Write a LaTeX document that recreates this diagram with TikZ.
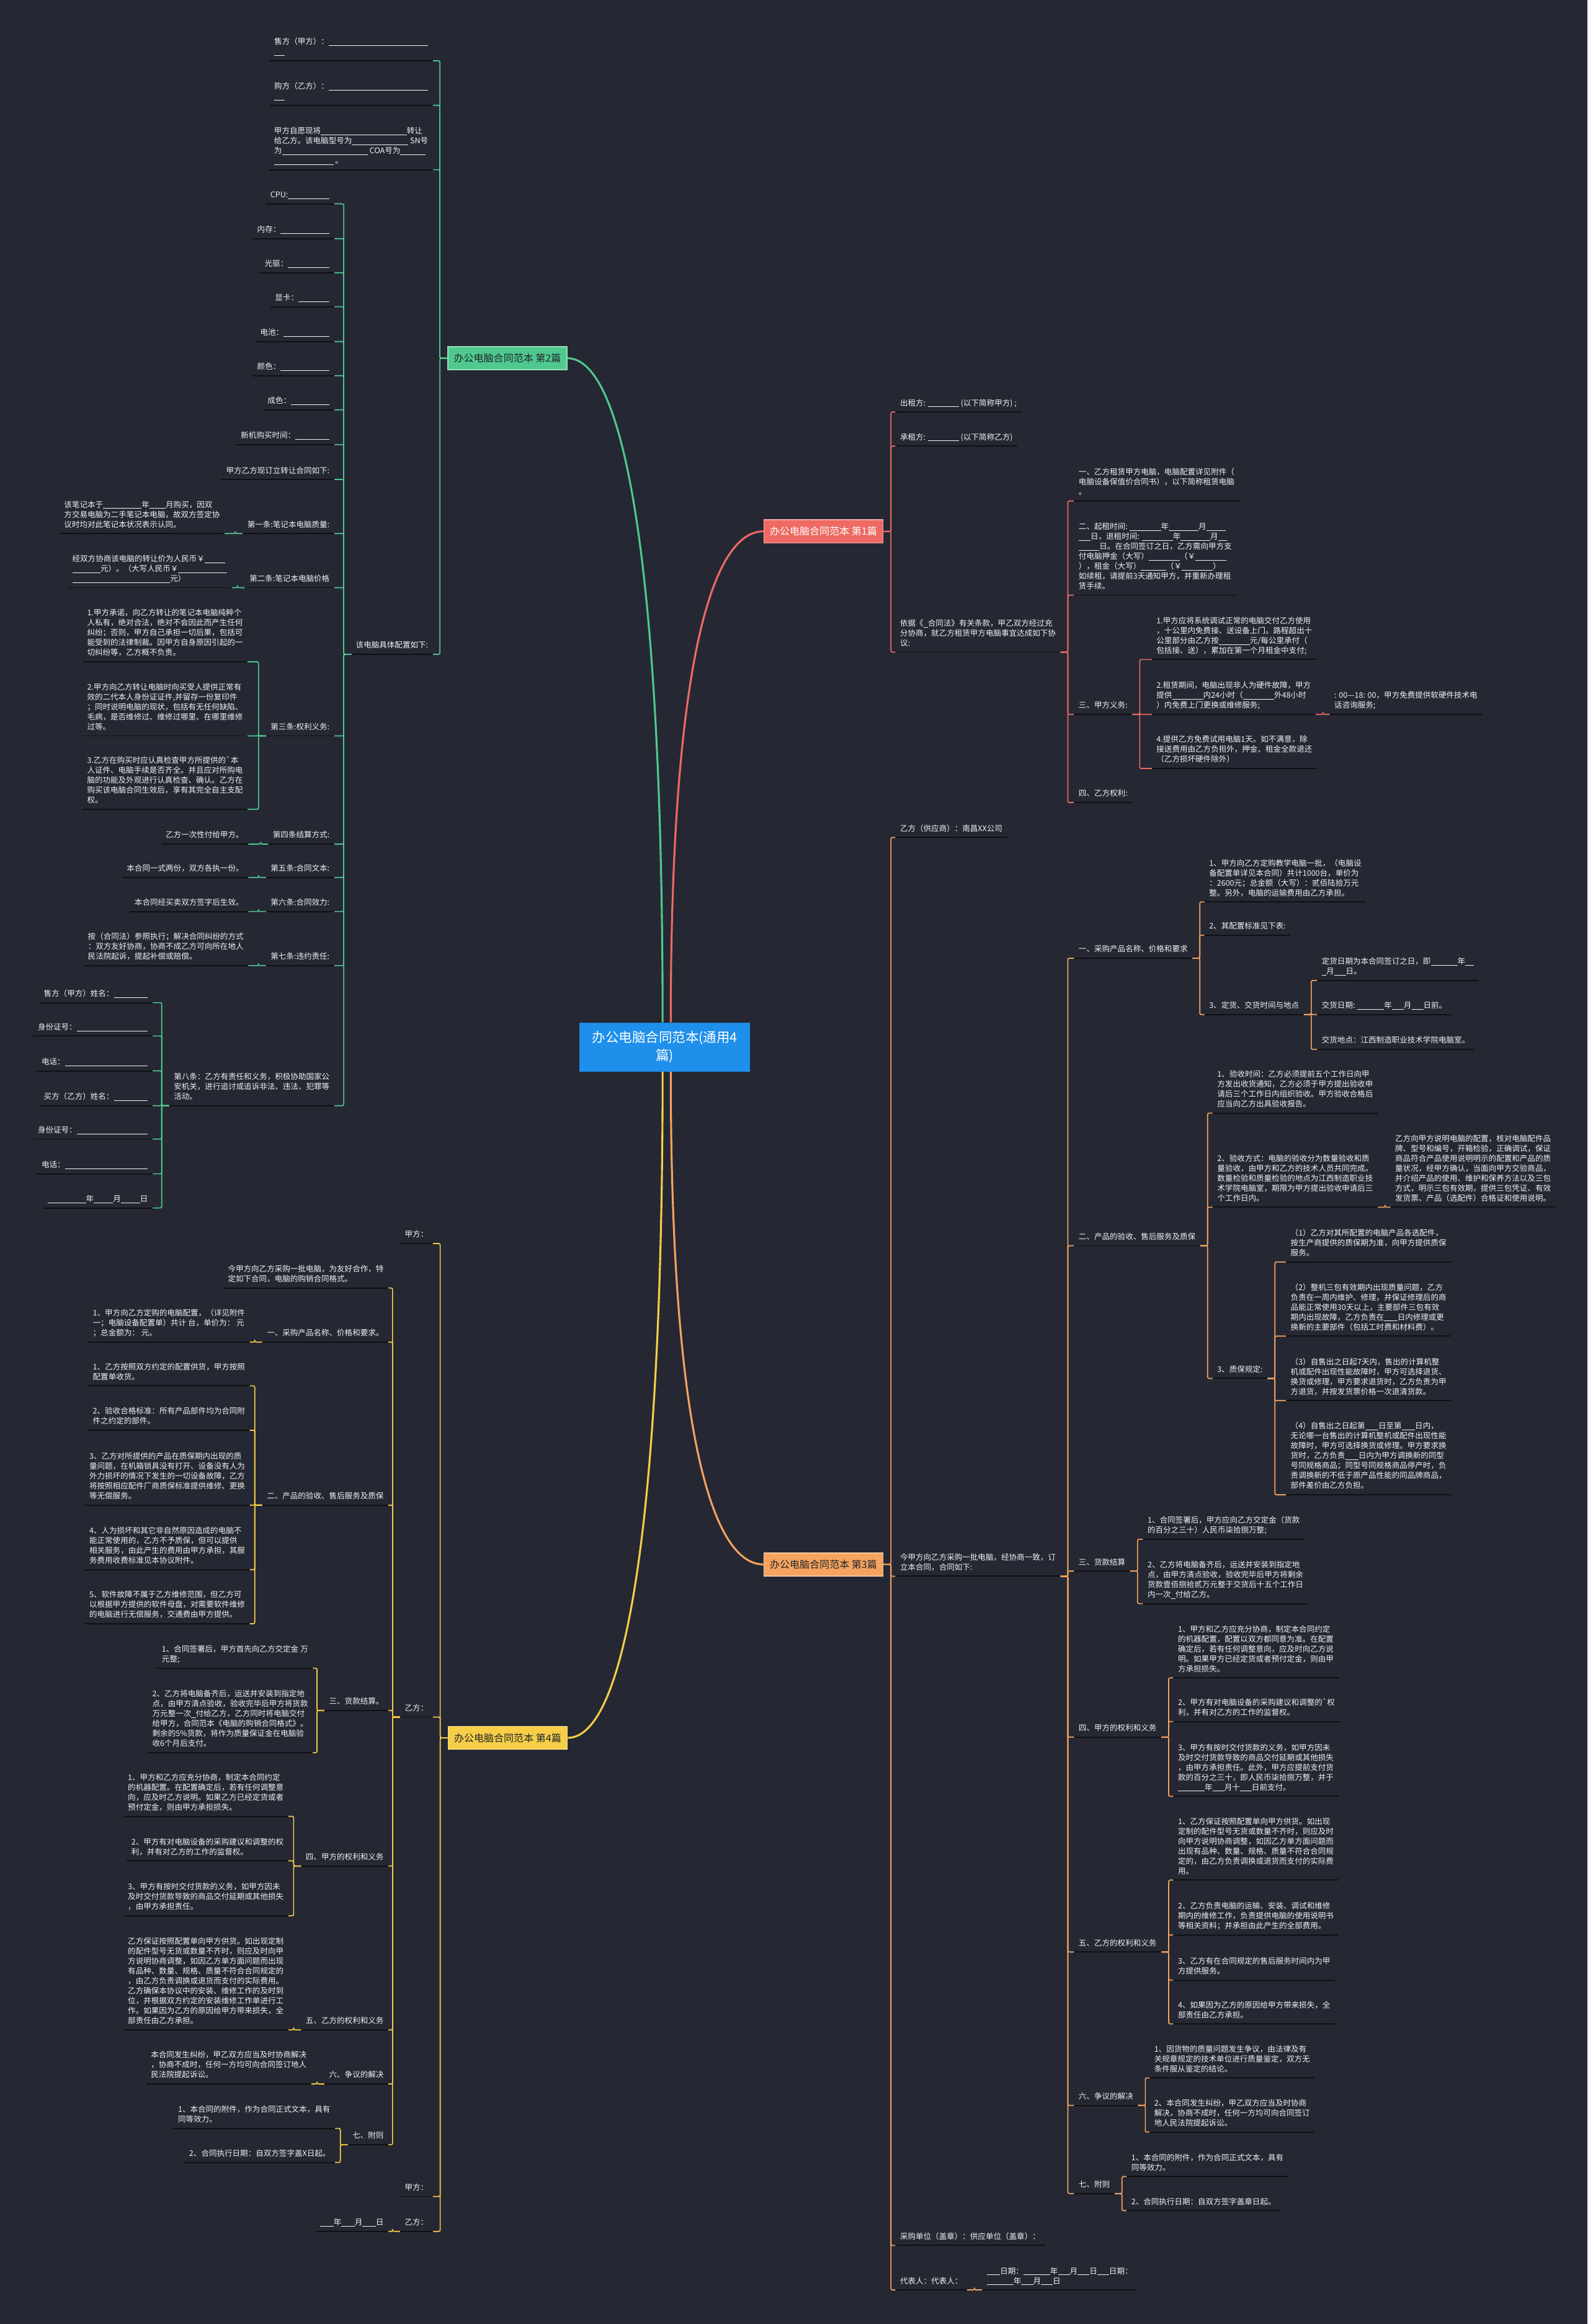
\documentclass[tikz,border=0pt]{standalone}
\usepackage{fontspec}
\setmainfont{Noto Sans CJK SC}
\definecolor{mapaFondo}{HTML}{252833}
\definecolor{mapaAzul}{HTML}{1E8FEA}
\definecolor{mapaVerde}{HTML}{4FC98E}
\definecolor{mapaRojo}{HTML}{EE6A63}
\definecolor{mapaNaranja}{HTML}{F5A35F}
\definecolor{mapaAmarillo}{HTML}{F6CE48}
\definecolor{mapaRaya}{HTML}{0E1014}
\definecolor{mapaTexto}{HTML}{F2F2F2}
\definecolor{mapaOscuro}{HTML}{20262B}
\newcommand{\hueco}[1]{\rule[-0.9pt]{#1pt}{0.4pt}}
\tikzset{
  raya/.style={draw=mapaRaya, line width=0.8pt},
  hoja/.style={align=left, text=mapaTexto, font=\fontsize{5.25}{6.7}\selectfont,
    inner xsep=3pt, inner ysep=2pt, execute at end node=\strut,
    append after command={(\tikzlastnode.south west) edge[raya] (\tikzlastnode.south east)}},
  hojaD/.style={hoja, anchor=south west},
  hojaI/.style={hoja, anchor=south east},
  raiz/.style={rectangle, fill=mapaAzul, text=white, minimum width=115pt,
    minimum height=33pt, align=center, font=\fontsize{9}{12}\selectfont},
  rama/.style={rectangle, minimum width=80.5pt, minimum height=15.5pt, inner sep=1pt,
    text=mapaOscuro, line width=0.6pt, font=\fontsize{6.7}{8}\selectfont},
  curva/.style={line width=1.3pt},
  codoD/.style={line width=0.7pt, rounded corners=1pt, to path={-- ++(5,0) |- (\tikztotarget)}},
  codoI/.style={line width=0.7pt, rounded corners=1pt, to path={-- ++(-5,0) |- (\tikztotarget)}},
}
\begin{document}
\begin{tikzpicture}[x=1pt,y=-1pt]
  \useasboundingbox (0,0) rectangle (1071,1568);
  \fill[mapaFondo] (0,0) rectangle (1071,1568);

  \node[raiz] (raiz) at (448.5,706.5) {办公电脑合同范本(通用4\\篇)};
  \node[rama, fill=mapaVerde, draw=mapaVerde!60!white] (p2) at (342.3,241.7) {办公电脑合同范本 第2篇};
  \node[rama, fill=mapaRojo, draw=mapaRojo!60!white, text=white] (p1) at (555.5,358.5) {办公电脑合同范本 第1篇};
  \node[rama, fill=mapaNaranja, draw=mapaNaranja!60!white] (p3) at (555.5,1055.5) {办公电脑合同范本 第3篇};
  \node[rama, fill=mapaAmarillo, draw=mapaAmarillo!60!white] (p4) at (342.5,1172.5) {办公电脑合同范本 第4篇};

  \draw[curva, mapaVerde] (p2.east) .. controls +(38,0) and +(0,-310) .. ([xshift=-1.5pt]raiz.north);
  \draw[curva, mapaRojo] ([xshift=4pt]raiz.north) .. controls +(0,-240) and +(-35,0) .. (p1.west);
  \draw[curva, mapaAmarillo] (p4.east) .. controls +(38,0) and +(0,310) .. ([xshift=-1.5pt]raiz.south);
  \draw[curva, mapaNaranja] ([xshift=4pt]raiz.south) .. controls +(0,240) and +(-35,0) .. (p3.west);

  % 第2篇
  \node[hojaI] (v1) at (292,41) {售方（甲方）：\hueco{67}\\\hueco{7}};
  \node[hojaI] (v2) at (292,71) {购方（乙方）：\hueco{67}\\\hueco{7}};
  \node[hojaI] (v3) at (292,114.5) {甲方自愿现将\hueco{58}转让\\给乙方。该电脑型号为\hueco{38} SN号\\为\hueco{58} COA号为\hueco{17}\\\hueco{40} 。};
  \node[hojaI] (v4) at (292,441.5) {该电脑具体配置如下:};
  \node[hojaI] (c1) at (225.5,137.5) {CPU:\hueco{28}};
  \node[hojaI] (c2) at (225.5,161) {内存：\hueco{33}};
  \node[hojaI] (c3) at (225.5,184) {光驱：\hueco{28}};
  \node[hojaI] (c4) at (225.5,207) {显卡：\hueco{21}};
  \node[hojaI] (c5) at (225.5,230.5) {电池：\hueco{31}};
  \node[hojaI] (c6) at (225.5,253.5) {颜色：\hueco{33}};
  \node[hojaI] (c7) at (225.5,276.5) {成色：\hueco{26}};
  \node[hojaI] (c8) at (225.5,300) {新机购买时间：\hueco{23}};
  \node[hojaI] (c9) at (225.5,323.5) {甲方乙方现订立转让合同如下:};
  \node[hojaI] (c10) at (225.5,360) {第一条:笔记本电脑质量:};
  \node[hojaI] (c11) at (225.5,396.5) {第二条:笔记本电脑价格};
  \node[hojaI] (c12) at (225.5,496.5) {第三条:权利义务:};
  \node[hojaI] (c13) at (225.5,569.5) {第四条结算方式:};
  \node[hojaI] (c14) at (225.5,592) {第五条:合同文本:};
  \node[hojaI] (c15) at (225.5,615) {第六条:合同效力:};
  \node[hojaI] (c16) at (225.5,651.5) {第七条:违约责任:};
  \node[hojaI] (c17) at (225.5,746) {第八条：乙方有责任和义务，积极协助国家公\\安机关，进行追讨或追诉非法、违法、犯罪等\\活动。};
  \node[hojaI] (c10a) at (151.5,360) {该笔记本于\hueco{26}年\hueco{11}月购买，因双\\方交易电脑为二手笔记本电脑，故双方签定协\\议时均对此笔记本状况表示认同。};
  \node[hojaI] (c11a) at (156.5,396.5) {经双方协商该电脑的转让价为人民币￥\hueco{14}\\\hueco{19}元）。（大写人民币￥\hueco{33}\\\hueco{66}元）};
  \node[hojaI] (c12a) at (167,446.5) {1.甲方承诺，向乙方转让的笔记本电脑纯粹个\\人私有，绝对合法，绝对不会因此而产生任何\\纠纷；否则，甲方自己承担一切后果，包括可\\能受到的法律制裁。因甲方自身原因引起的一\\切纠纷等，乙方概不负责。};
  \node[hojaI] (c12b) at (167,496.5) {2.甲方向乙方转让电脑时向买受人提供正常有\\效的二代本人身份证证件,并留存一份复印件\\；同时说明电脑的现状，包括有无任何缺陷、\\毛病，是否维修过、维修过哪里、在哪里维修\\过等。};
  \node[hojaI] (c12c) at (167,546) {3.乙方在购买时应认真检查甲方所提供的\textasciigrave 本\\人证件、电脑手续是否齐全。并且应对所购电\\脑的功能及外观进行认真检查、确认。乙方在\\购买该电脑合同生效后，享有其完全自主支配\\权。};
  \node[hojaI] (c13a) at (167.5,569.5) {乙方一次性付给甲方。};
  \node[hojaI] (c14a) at (167.5,592) {本合同一式两份，双方各执一份。};
  \node[hojaI] (c15a) at (167.5,615) {本合同经买卖双方签字后生效。};
  \node[hojaI] (c16a) at (167.5,651.5) {按（合同法）参照执行；解决合同纠纷的方式\\：双方友好协商，协商不成乙方可向所在地人\\民法院起诉，提起补偿或赔偿。};
  \node[hojaI] (f1) at (103,676.5) {售方（甲方）姓名：\hueco{23}};
  \node[hojaI] (f2) at (103,699) {身份证号：\hueco{48}};
  \node[hojaI] (f3) at (103,722.5) {电话：\hueco{56}};
  \node[hojaI] (f4) at (103,746) {买方（乙方）姓名：\hueco{23}};
  \node[hojaI] (f5) at (103,768.5) {身份证号：\hueco{48}};
  \node[hojaI] (f6) at (103,792) {电话：\hueco{56}};
  \node[hojaI] (f7) at (103,815) {\hueco{26}年\hueco{13}月\hueco{13}日};

  \path[mapaVerde] (p2.west) edge[codoI] (v1.south east) edge[codoI] (v2.south east)
    edge[codoI] (v3.south east) edge[codoI] (v4.south east);
  \path[mapaVerde] (v4.south west) edge[codoI] (c1.south east) edge[codoI] (c2.south east)
    edge[codoI] (c3.south east) edge[codoI] (c4.south east) edge[codoI] (c5.south east)
    edge[codoI] (c6.south east) edge[codoI] (c7.south east) edge[codoI] (c8.south east)
    edge[codoI] (c9.south east) edge[codoI] (c10.south east) edge[codoI] (c11.south east)
    edge[codoI] (c12.south east) edge[codoI] (c13.south east) edge[codoI] (c14.south east)
    edge[codoI] (c15.south east) edge[codoI] (c16.south east) edge[codoI] (c17.south east);
  \path[mapaVerde] (c10.south west) edge[codoI] (c10a.south east);
  \path[mapaVerde] (c11.south west) edge[codoI] (c11a.south east);
  \path[mapaVerde] (c12.south west) edge[codoI] (c12a.south east) edge[codoI] (c12b.south east)
    edge[codoI] (c12c.south east);
  \path[mapaVerde] (c13.south west) edge[codoI] (c13a.south east);
  \path[mapaVerde] (c14.south west) edge[codoI] (c14a.south east);
  \path[mapaVerde] (c15.south west) edge[codoI] (c15a.south east);
  \path[mapaVerde] (c16.south west) edge[codoI] (c16a.south east);
  \path[mapaVerde] (c17.south west) edge[codoI] (f1.south east) edge[codoI] (f2.south east)
    edge[codoI] (f3.south east) edge[codoI] (f4.south east) edge[codoI] (f5.south east)
    edge[codoI] (f6.south east) edge[codoI] (f7.south east);

  % 第1篇
  \node[hojaD] (r1) at (604,278) {出租方: \hueco{21} (以下简称甲方) ;};
  \node[hojaD] (r2) at (604,301) {承租方: \hueco{21} (以下简称乙方)};
  \node[hojaD] (r3) at (604,440) {依据《\hueco{3}合同法》有关条款，甲乙双方经过充\\分协商，就乙方租赁甲方电脑事宜达成如下协\\议:};
  \node[hojaD] (r3a) at (724.5,338) {一、乙方租赁甲方电脑，电脑配置详见附件（\\电脑设备保值价合同书），以下简称租赁电脑\\。};
  \node[hojaD] (r3b) at (724.5,401.5) {二、起租时间: \hueco{21}年\hueco{20}月\hueco{13}\\\hueco{8}日，退租时间: \hueco{21}年\hueco{20}月\hueco{6}\\\hueco{14}日。在合同签订之日，乙方需向甲方支\\付电脑押金（大写）\hueco{21}（￥\hueco{21}\\），租金（大写）\hueco{17}（￥\hueco{21}）\\如续租，请提前3天通知甲方，并重新办理租\\赁手续。};
  \node[hojaD] (r3c) at (724.5,482) {三、甲方义务:};
  \node[hojaD] (r3d) at (724.5,541.5) {四、乙方权利:};
  \node[hojaD] (r3c1) at (777,445) {1.甲方应将系统调试正常的电脑交付乙方使用\\，十公里内免费接、送设备上门。路程超出十\\公里部分由乙方按\hueco{21}元/每公里承付（\\包括接、送），累加在第一个月租金中支付;};
  \node[hojaD] (r3c2) at (777,482) {2.租赁期间，电脑出现非人为硬件故障，甲方\\提供\hueco{21}内24小时（\hueco{21}外48小时\\）内免费上门更换或维修服务;};
  \node[hojaD] (r3c4) at (777,518.5) {4.提供乙方免费试用电脑1天。如不满意，除\\接送费用由乙方负担外，押金、租金全款退还\\（乙方损坏硬件除外）};
  \node[hojaD] (r3c2a) at (897,482) {: 00—18: 00，甲方免费提供软硬件技术电\\话咨询服务;};

  \path[mapaRojo] (p1.east) edge[codoD] (r1.south west) edge[codoD] (r2.south west)
    edge[codoD] (r3.south west);
  \path[mapaRojo] (r3.south east) edge[codoD] (r3a.south west) edge[codoD] (r3b.south west)
    edge[codoD] (r3c.south west) edge[codoD] (r3d.south west);
  \path[mapaRojo] (r3c.south east) edge[codoD] (r3c1.south west) edge[codoD] (r3c2.south west)
    edge[codoD] (r3c4.south west);
  \path[mapaRojo] (r3c2.south east) edge[codoD] (r3c2a.south west);

  % 第3篇
  \node[hojaD] (o1) at (604,565) {乙方（供应商）：南昌XX公司};
  \node[hojaD] (o2) at (604,1063.5) {今甲方向乙方采购一批电脑，经协商一致，订\\立本合同，合同如下:};
  \node[hojaD] (o3) at (604,1515) {采购单位（盖章）：供应单位（盖章）：};
  \node[hojaD] (o4) at (604,1545) {代表人：代表人：};
  \node[hojaD] (o4a) at (662.5,1545) {\hueco{9}日期：\hueco{18}年\hueco{8}月\hueco{8}日\hueco{8}日期：\\\hueco{18}年\hueco{8}月\hueco{8}日};
  \node[hojaD] (o2a) at (724.5,646.5) {一、采购产品名称、价格和要求};
  \node[hojaD] (o2b) at (724.5,840.5) {二、产品的验收、售后服务及质保};
  \node[hojaD] (o2c) at (724.5,1060) {三、货款结算};
  \node[hojaD] (o2d) at (724.5,1172) {四、甲方的权利和义务};
  \node[hojaD] (o2e) at (724.5,1317) {五、乙方的权利和义务};
  \node[hojaD] (o2f) at (724.5,1420.5) {六、争议的解决};
  \node[hojaD] (o2g) at (724.5,1480) {七、附则};
  \node[hojaD] (o2a1) at (812.5,608.5) {1、甲方向乙方定购教学电脑一批，（电脑设\\备配置单详见本合同）共计1000台，单价为\\：2600元；总金额（大写）：贰佰陆拾万元\\整。另外，电脑的运输费用由乙方承担。};
  \node[hojaD] (o2a2) at (812.5,631) {2、其配置标准见下表:};
  \node[hojaD] (o2a3) at (812.5,684.5) {3、定货、交货时间与地点};
  \node[hojaD] (o2a3a) at (888.5,661.5) {定货日期为本合同签订之日，即\hueco{18}年\hueco{6}\\\hueco{3}月\hueco{8}日。};
  \node[hojaD] (o2a3b) at (888.5,684.5) {交货日期: \hueco{18}年\hueco{8}月\hueco{8}日前。};
  \node[hojaD] (o2a3c) at (888.5,708) {交货地点：江西制造职业技术学院电脑室。};
  \node[hojaD] (o2b1) at (818,751) {1、验收时间：乙方必须提前五个工作日向甲\\方发出收货通知，乙方必须于甲方提出验收申\\请后三个工作日内组织验收。甲方验收合格后\\应当向乙方出具验收报告。};
  \node[hojaD] (o2b2) at (818,814.5) {2、验收方式：电脑的验收分为数量验收和质\\量验收，由甲方和乙方的技术人员共同完成。\\数量检验和质量检验的地点为江西制造职业技\\术学院电脑室，期限为甲方提出验收申请后三\\个工作日内。};
  \node[hojaD] (o2b2a) at (938,814.5) {乙方向甲方说明电脑的配置，核对电脑配件品\\牌、型号和编号，开箱检验，正确调试，保证\\商品符合产品使用说明明示的配置和产品的质\\量状况，经甲方确认，当面向甲方交验商品，\\并介绍产品的使用、维护和保养方法以及三包\\方式，明示三包有效期，提供三包凭证、有效\\发货票、产品（选配件）合格证和使用说明。};
  \node[hojaD] (o2b3) at (818,930) {3、质保规定:};
  \node[hojaD] (o2b3a) at (867.5,851.5) {（1）乙方对其所配置的电脑产品各选配件，\\按生产商提供的质保期为准，向甲方提供质保\\服务。};
  \node[hojaD] (o2b3b) at (867.5,901.5) {（2）整机三包有效期内出现质量问题，乙方\\负责在一周内维护、修理，并保证修理后的商\\品能正常使用30天以上，主要部件三包有效\\期内出现故障，乙方负责在\hueco{9}日内修理或更\\换新的主要部件（包括工时费和材料费）。};
  \node[hojaD] (o2b3c) at (867.5,945) {（3）自售出之日起7天内，售出的计算机整\\机或配件出现性能故障时，甲方可选择退货、\\换货或修理，甲方要求退货时，乙方负责为甲\\方退货，并按发货票价格一次退清货款。};
  \node[hojaD] (o2b3d) at (867.5,1008.5) {（4）自售出之日起第\hueco{9}日至第\hueco{9}日内，\\无论哪一台售出的计算机整机或配件出现性能\\故障时，甲方可选择换货或修理。甲方要求换\\货时，乙方负责\hueco{9}日内为甲方调换新的同型\\号同规格商品；同型号同规格商品停产时，负\\责调换新的不低于原产品性能的同品牌商品，\\部件差价由乙方负担。};
  \node[hojaD] (o2c1) at (771,1038.5) {1、合同签署后，甲方应向乙方交定金（货款\\的百分之三十）人民币柒拾捌万整;};
  \node[hojaD] (o2c2) at (771,1082) {2、乙方将电脑备齐后，运送并安装到指定地\\点，由甲方清点验收，验收完毕后甲方将剩余\\货款壹佰捌拾贰万元整于交货后十五个工作日\\内一次\hueco{3}付给乙方。};
  \node[hojaD] (o2d1) at (791.5,1132) {1、甲方和乙方应充分协商，制定本合同约定\\的机器配置，配置以双方都同意为准。在配置\\确定后，若有任何调整意向，应及时向乙方说\\明。如果甲方已经定货或者预付定金，则由甲\\方承担损失。};
  \node[hojaD] (o2d2) at (791.5,1161.5) {2、甲方有对电脑设备的采购建议和调整的\textasciigrave 权\\利，并有对乙方的工作的监督权。};
  \node[hojaD] (o2d3) at (791.5,1212) {3、甲方有按时交付货款的义务，如甲方因未\\及时交付货款导致的商品交付延期或其他损失\\，由甲方承担责任。此外，甲方应提前支付货\\款的百分之三十，即人民币柒拾捌万整，并于\\\hueco{18}年\hueco{8}月十\hueco{8}日前支付。};
  \node[hojaD] (o2e1) at (791.5,1268.5) {1、乙方保证按照配置单向甲方供货。如出现\\定制的配件型号无货或数量不齐时，则应及时\\向甲方说明协商调整，如因乙方单方面问题而\\出现有品种、数量、规格、质量不符合合同规\\定的，由乙方负责调换或退货而支付的实际费\\用。};
  \node[hojaD] (o2e2) at (791.5,1305.5) {2、乙方负责电脑的运输、安装、调试和维修\\期内的维修工作，负责提供电脑的使用说明书\\等相关资料；并承担由此产生的全部费用。};
  \node[hojaD] (o2e3) at (791.5,1336) {3、乙方有在合同规定的售后服务时间内为甲\\方提供服务。};
  \node[hojaD] (o2e4) at (791.5,1365.5) {4、如果因为乙方的原因给甲方带来损失，全\\部责任由乙方承担。};
  \node[hojaD] (o2f1) at (775.5,1402) {1、因货物的质量问题发生争议，由法律及有\\关规章规定的技术单位进行质量鉴定，双方无\\条件服从鉴定的结论。};
  \node[hojaD] (o2f2) at (775.5,1438.5) {2、本合同发生纠纷，甲乙双方应当及时协商\\解决，协商不成时，任何一方均可向合同签订\\地人民法院提起诉讼。};
  \node[hojaD] (o2g1) at (760,1468.5) {1、本合同的附件，作为合同正式文本，具有\\同等效力。};
  \node[hojaD] (o2g2) at (760,1491.5) {2、合同执行日期：自双方签字盖章日起。};

  \path[mapaNaranja] (p3.east) edge[codoD] (o1.south west) edge[codoD] (o2.south west)
    edge[codoD] (o3.south west) edge[codoD] (o4.south west);
  \path[mapaNaranja] (o4.south east) edge[codoD] (o4a.south west);
  \path[mapaNaranja] (o2.south east) edge[codoD] (o2a.south west) edge[codoD] (o2b.south west)
    edge[codoD] (o2c.south west) edge[codoD] (o2d.south west) edge[codoD] (o2e.south west)
    edge[codoD] (o2f.south west) edge[codoD] (o2g.south west);
  \path[mapaNaranja] (o2a.south east) edge[codoD] (o2a1.south west) edge[codoD] (o2a2.south west)
    edge[codoD] (o2a3.south west);
  \path[mapaNaranja] (o2a3.south east) edge[codoD] (o2a3a.south west) edge[codoD] (o2a3b.south west)
    edge[codoD] (o2a3c.south west);
  \path[mapaNaranja] (o2b.south east) edge[codoD] (o2b1.south west) edge[codoD] (o2b2.south west)
    edge[codoD] (o2b3.south west);
  \path[mapaNaranja] (o2b2.south east) edge[codoD] (o2b2a.south west);
  \path[mapaNaranja] (o2b3.south east) edge[codoD] (o2b3a.south west) edge[codoD] (o2b3b.south west)
    edge[codoD] (o2b3c.south west) edge[codoD] (o2b3d.south west);
  \path[mapaNaranja] (o2c.south east) edge[codoD] (o2c1.south west) edge[codoD] (o2c2.south west);
  \path[mapaNaranja] (o2d.south east) edge[codoD] (o2d1.south west) edge[codoD] (o2d2.south west)
    edge[codoD] (o2d3.south west);
  \path[mapaNaranja] (o2e.south east) edge[codoD] (o2e1.south west) edge[codoD] (o2e2.south west)
    edge[codoD] (o2e3.south west) edge[codoD] (o2e4.south west);
  \path[mapaNaranja] (o2f.south east) edge[codoD] (o2f1.south west) edge[codoD] (o2f2.south west);
  \path[mapaNaranja] (o2g.south east) edge[codoD] (o2g1.south west) edge[codoD] (o2g2.south west);

  % 第4篇
  \node[hojaI] (y1) at (292,839) {甲方：};
  \node[hojaI] (y2) at (292,1158.5) {乙方：};
  \node[hojaI] (y3) at (292,1482) {甲方：};
  \node[hojaI] (y4) at (292,1505.5) {乙方：};
  \node[hojaI] (y4a) at (262,1505.5) {\hueco{9}年\hueco{9}月\hueco{9}日};
  \node[hojaI] (k0) at (262,869) {今甲方向乙方采购一批电脑，为友好合作，特\\定如下合同，电脑的购销合同格式。};
  \node[hojaI] (k1) at (262,905.5) {一、采购产品名称、价格和要求。};
  \node[hojaI] (k2) at (262,1015.5) {二、产品的验收、售后服务及质保};
  \node[hojaI] (k3) at (262,1154) {三、货款结算。};
  \node[hojaI] (k4) at (262,1259) {四、甲方的权利和义务};
  \node[hojaI] (k5) at (262,1369.5) {五、乙方的权利和义务};
  \node[hojaI] (k6) at (262,1406) {六、争议的解决};
  \node[hojaI] (k7) at (262,1447) {七、附则};
  \node[hojaI] (k1a) at (168.5,905.5) {1、甲方向乙方定购的电脑配置，（详见附件\\一；电脑设备配置单）共计 台，单价为： 元\\；总金额为： 元。};
  \node[hojaI] (k2a) at (168.5,935) {1、乙方按照双方约定的配置供货，甲方按照\\配置单收货。};
  \node[hojaI] (k2b) at (168.5,965) {2、验收合格标准：所有产品部件均为合同附\\件之约定的部件。};
  \node[hojaI] (k2c) at (168.5,1015.5) {3、乙方对所提供的产品在质保期内出现的质\\量问题，在机箱锁具没有打开、设备没有人为\\外力损坏的情况下发生的一切设备故障，乙方\\将按照相应配件厂商质保标准提供维修、更换\\等无偿服务。};
  \node[hojaI] (k2d) at (168.5,1059) {4、人为损坏和其它非自然原因造成的电脑不\\能正常使用的，乙方不予质保，但可以提供\\相关服务，由此产生的费用由甲方承担，其服\\务费用收费标准见本协议附件。};
  \node[hojaI] (k2e) at (168.5,1095.5) {5、软件故障不属于乙方维修范围，但乙方可\\以根据甲方提供的软件母盘，对需要软件维修\\的电脑进行无偿服务，交通费由甲方提供。};
  \node[hojaI] (k3a) at (211,1125.5) {1、合同签署后，甲方首先向乙方交定金 万\\元整;};
  \node[hojaI] (k3b) at (211,1182.5) {2、乙方将电脑备齐后，运送并安装到指定地\\点，由甲方清点验收，验收完毕后甲方将货款\\万元整一次\hueco{3}付给乙方，乙方同时将电脑交付\\给甲方，合同范本《电脑的购销合同格式》。\\剩余的5\%货款，将作为质量保证金在电脑验\\收6个月后支付。};
  \node[hojaI] (k4a) at (194.5,1225.5) {1、甲方和乙方应充分协商，制定本合同约定\\的机器配置。在配置确定后，若有任何调整意\\向，应及时乙方说明。如果乙方已经定货或者\\预付定金，则由甲方承担损失。};
  \node[hojaI] (k4b) at (194.5,1255.5) {2、甲方有对电脑设备的采购建议和调整的权\\利，并有对乙方的工作的监督权。};
  \node[hojaI] (k4c) at (194.5,1292.5) {3、甲方有按时交付货款的义务，如甲方因未\\及时交付货款导致的商品交付延期或其他损失\\，由甲方承担责任。};
  \node[hojaI] (k5a) at (194.5,1369.5) {乙方保证按照配置单向甲方供货。如出现定制\\的配件型号无货或数量不齐时，则应及时向甲\\方说明协商调整，如因乙方单方面问题而出现\\有品种、数量、规格、质量不符合合同规定的\\，由乙方负责调换或退货而支付的实际费用。\\乙方确保本协议中的安装、维修工作的及时到\\位，并根据双方约定的安装维修工作单进行工\\作。如果因为乙方的原因给甲方带来损失，全\\部责任由乙方承担。};
  \node[hojaI] (k6a) at (210,1406) {本合同发生纠纷，甲乙双方应当及时协商解决\\，协商不成时，任何一方均可向合同签订地人\\民法院提起诉讼。};
  \node[hojaI] (k7a) at (226,1436) {1、本合同的附件，作为合同正式文本，具有\\同等效力。};
  \node[hojaI] (k7b) at (226,1459) {2、合同执行日期：自双方签字盖X日起。};

  \path[mapaAmarillo] (p4.west) edge[codoI] (y1.south east) edge[codoI] (y2.south east)
    edge[codoI] (y3.south east) edge[codoI] (y4.south east);
  \path[mapaAmarillo] (y4.south west) edge[codoI] (y4a.south east);
  \path[mapaAmarillo] (y2.south west) edge[codoI] (k0.south east) edge[codoI] (k1.south east)
    edge[codoI] (k2.south east) edge[codoI] (k3.south east) edge[codoI] (k4.south east)
    edge[codoI] (k5.south east) edge[codoI] (k6.south east) edge[codoI] (k7.south east);
  \path[mapaAmarillo] (k1.south west) edge[codoI] (k1a.south east);
  \path[mapaAmarillo] (k2.south west) edge[codoI] (k2a.south east) edge[codoI] (k2b.south east)
    edge[codoI] (k2c.south east) edge[codoI] (k2d.south east) edge[codoI] (k2e.south east);
  \path[mapaAmarillo] (k3.south west) edge[codoI] (k3a.south east) edge[codoI] (k3b.south east);
  \path[mapaAmarillo] (k4.south west) edge[codoI] (k4a.south east) edge[codoI] (k4b.south east)
    edge[codoI] (k4c.south east);
  \path[mapaAmarillo] (k5.south west) edge[codoI] (k5a.south east);
  \path[mapaAmarillo] (k6.south west) edge[codoI] (k6a.south east);
  \path[mapaAmarillo] (k7.south west) edge[codoI] (k7a.south east) edge[codoI] (k7b.south east);
\end{tikzpicture}
\end{document}
